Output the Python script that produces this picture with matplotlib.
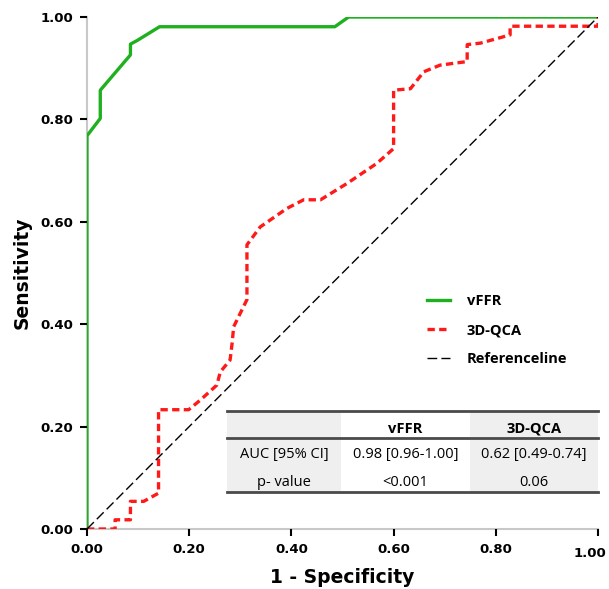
import numpy as np
import matplotlib.pyplot as plt
import matplotlib.transforms as mtransforms
from matplotlib.patches import Rectangle

# ROC curve points
vffr_fpr = [0.0, 0.0, 0.026, 0.026, 0.085, 0.085, 0.098, 0.142, 0.485, 0.512, 1.0]
vffr_tpr = [0.0, 0.768, 0.802, 0.857, 0.926, 0.947, 0.954, 0.981, 0.981, 1.0, 1.0]

qca_fpr = [0.0, 0.055, 0.055, 0.085, 0.085, 0.111, 0.14, 0.14, 0.199, 0.222, 0.254,
           0.261, 0.28, 0.284, 0.287, 0.313, 0.313, 0.339, 0.391, 0.424, 0.457,
           0.509, 0.567, 0.6, 0.6, 0.633, 0.659, 0.691, 0.744, 0.744, 0.77,
           0.828, 0.828, 1.0, 1.0]
qca_tpr = [0.0, 0.0, 0.018, 0.018, 0.054, 0.054, 0.07, 0.233, 0.233, 0.252, 0.281,
           0.307, 0.33, 0.363, 0.395, 0.448, 0.555, 0.59, 0.626, 0.643, 0.643,
           0.675, 0.714, 0.743, 0.857, 0.86, 0.893, 0.906, 0.913, 0.946, 0.949,
           0.965, 0.982, 0.982, 1.0]

ticks = [0.0, 0.2, 0.4, 0.6, 0.8, 1.0]
tick_labels = ["0.00", "0.20", "0.40", "0.60", "0.80", "1.00"]

table_header = ["", "vFFR", "3D-QCA"]
table_rows = [["AUC [95% CI]", "0.98 [0.96-1.00]", "0.62 [0.49-0.74]"],
              ["p- value", "<0.001", "0.06"]]

fig = plt.figure(figsize=(6.09, 5.89), dpi=100)
ax = fig.add_axes([87 / 609, 60 / 589, 511 / 609, 512 / 589])

green = "#1fb01f"
red = "#ff1a1a"

ax.plot(vffr_fpr, vffr_tpr, color=green, lw=2.4, label="vFFR")
ax.plot(qca_fpr, qca_tpr, color=red, lw=2.4, dashes=(2.2, 1.3), label="3D-QCA")
ax.plot([0, 1], [0, 1], color="black", lw=1.0, dashes=(7, 3), label="Referenceline")

ax.set_xlim(0, 1)
ax.set_ylim(0, 1)
ax.set_xticks(ticks)
ax.set_xticklabels(tick_labels)
ax.set_yticks(ticks)
ax.set_yticklabels(tick_labels)
for s in ["top", "right"]:
    ax.spines[s].set_visible(False)
for s in ["left", "bottom"]:
    ax.spines[s].set_color("#c8c8c8")
    ax.spines[s].set_linewidth(1.5)
    ax.spines[s].set_zorder(0)
ax.tick_params(length=5, width=1.5, color="black", pad=5, labelsize=9.5)
for lab in ax.get_xticklabels() + ax.get_yticklabels():
    lab.set_fontweight("bold")

# last x label sits a little left and lower, as in the original
last = ax.get_xticklabels()[-1]
last.set_transform(last.get_transform() +
                   mtransforms.ScaledTranslation(-0.08, -0.04, fig.dpi_scale_trans))

ax.set_xlabel("1 - Specificity", fontsize=13.5, fontweight="bold", va="center")
ax.set_ylabel("Sensitivity", fontsize=13.5, fontweight="bold", va="center")
ax.xaxis.set_label_coords(0.5, -0.094)
ax.yaxis.set_label_coords(-0.127, 0.5)

ax.legend(loc="upper left", bbox_to_anchor=(0.64, 0.485), frameon=False,
          handlelength=1.6, handletextpad=1.1, labelspacing=1.05,
          prop={"family": "Open Sans", "weight": "bold", "size": 10.5})

# AUC table in axes coordinates
col_x = [0.274, 0.497, 0.750, 1.0]
y_top, y_mid, y_bot = 0.230, 0.178, 0.072
for i in [0, 2]:
    ax.add_patch(Rectangle((col_x[i], y_bot), col_x[i + 1] - col_x[i], y_top - y_bot,
                           facecolor="#efefef", edgecolor="none", zorder=3))
for yy in [y_top, y_mid, y_bot]:
    ax.plot([col_x[0], col_x[-1]], [yy, yy], color="#4a4a4a", lw=2.0, zorder=4,
            clip_on=False)
row_y = [0.196, 0.145, 0.091]
for j, txt in enumerate(table_header):
    ax.text((col_x[j] + col_x[j + 1]) / 2, row_y[0], txt, ha="center", va="center",
            fontsize=10.5, fontweight="bold", family="Open Sans", zorder=5)
for r, row in enumerate(table_rows):
    for j, txt in enumerate(row):
        ax.text((col_x[j] + col_x[j + 1]) / 2, row_y[r + 1], txt, ha="center",
                va="center", fontsize=10.5, family="Open Sans", zorder=5)

fig.savefig("out.png", dpi=100)
